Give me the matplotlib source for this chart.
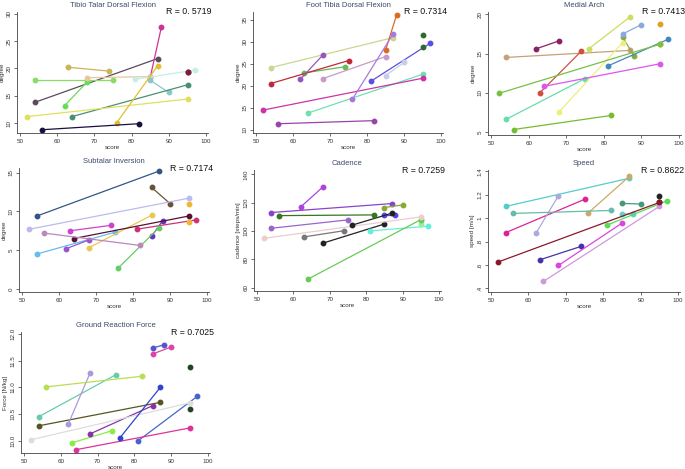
import numpy as np
import matplotlib
matplotlib.use("Agg")
import matplotlib.pyplot as plt

plt.rcParams['font.family'] = ['Liberation Sans', 'DejaVu Sans']

# scores of each subject (first and second session), subjects A..M
score_1 = [54, 85, 63, 54, 62, 68, 81, 85, 95, 64, 52, 76, 56]
score_2 = [87, 88, 74, 75, 68, 85, 97, 90, 95, 95, 95, 87, 82]

# tibio talar dorsal flexion
ttdf_1 = [13.8, 18.4, 20.2, 17.9, 13.2, 18.3, 18.0, 17.8, 19.4, 11.2, 11.2, 10.1, 8.8]
ttdf_2 = [21.8, 27.6, 19.5, 17.9, 17.5, 18.5, 19.7, 15.6, 19.4, 17.0, 14.4, 20.5, 9.9]
# foot tibia dorsal flexion
ftdf_1 = [24.1, 28.1, 22.9, 20.5, 21.5, 21.6, 21.0, 22.3, 31.5, 13.8, 14.5, 16.9, 11.4]
ftdf_2 = [30.9, 36.1, 24.3, 25.7, 26.9, 26.6, 29.6, 25.3, 28.7, 22.6, 21.7, 31.7, 12.1]
# medial arch
arch_1 = [14.5, 17.1, 10.0, 6.6, 15.6, 7.5, 13.4, 17.5, 18.8, 10.8, 9.9, 15.6, 5.3]
arch_2 = [15.4, 14.7, 15.3, 11.8, 16.6, 16.4, 16.8, 18.7, 16.2, 13.7, 16.2, 19.7, 7.1]
# subtalar inversion
subt_1 = [9.4, 6.8, 7.5, 4.5, 5.2, 5.3, 7.7, 13.1, 11.0, 6.5, 7.7, 2.7, 7.2]
subt_2 = [15.2, 8.8, 8.2, 7.3, 6.3, 9.5, 8.9, 11.0, 8.6, 9.4, 11.7, 7.9, 5.6]
# cadence
cad_1 = [113.0, 111.0, 95.8, 101.9, 116.9, 91.3, 100.0, 116.5, 108.0, 66.0, 94.8, 104.0, 110.8]
cad_2 = [119.3, 111.0, 100.2, 107.8, 130.8, 104.9, 103.3, 118.4, 104.7, 108.0, 109.9, 112.5, 111.3]
# speed
spd_1 = [1.10, 1.036, 0.644, 0.877, 0.87, 0.596, 0.94, 1.125, 1.19, 0.46, 0.627, 1.045, 1.04]
spd_2 = [1.34, 1.034, 0.758, 1.16, 1.19, 0.957, 1.147, 1.12, 1.14, 1.10, 1.133, 1.357, 1.065]
# ground reaction force
grf_1 = [10.28, 11.74, 9.96, 10.45, 10.31, 10.13, 10.00, 11.63, 11.39, 9.83, 10.02, 10.05, 11.01]
grf_2 = [10.72, 11.80, 10.19, 11.24, 11.28, 10.66, 10.83, 11.76, 10.60, 10.24, 10.71, 11.00, 11.21]

titles = ["Tibio Talar Dorsal Flexion", "Foot Tibia Dorsal Flexion", "Medial Arch",
          "Subtalar Inversion", "Cadence", "Speed", "Ground Reaction Force"]
r_labels = ["R = 0. 5719", "R = 0.7314", "R = 0.7413", "R = 0.7174",
            "R = 0.7259", "R = 0.8622", "R = 0.7025"]
ylabels = ["degree", "degree", "degree", "degree", "cadence [steps/min]",
           "speed [m/s]", "Force [N/kg]"]

colors = [
    ["#5b4a5e", "#cc3399", "#c8b45a", "#88dd66", "#66dd55", "#e6c89a", "#c4eee6",
     "#88c8cc", "#7a1f3d", "#4a9070", "#e0e060", "#e0c030", "#1a1040"],
    ["#c8d890", "#dd6a22", "#66bb55", "#c02a3a", "#9955bb", "#c89ac8", "#5a50e0",
     "#c8cce8", "#2e6a2e", "#70e0b0", "#cc33aa", "#aa77dd", "#9944aa"],
    ["#c8a07a", "#88aa44", "#d05040", "#66ddaa", "#882266", "#eeee80", "#4488bb",
     "#88aadd", "#e0a020", "#dd55ee", "#77c044", "#c8e060", "#77bb33"],
    ["#335588", "#6633bb", "#cc44cc", "#66bbee", "#9955cc", "#e8c850", "#cc3377",
     "#665533", "#f0b830", "#551133", "#bbbbee", "#66cc66", "#bb88bb"],
    ["#8844cc", "#5544dd", "#777777", "#9966cc", "#aa44dd", "#222222", "#66eedd",
     "#88aa33", "#99ee99", "#66cc55", "#eecccc", "#222222", "#337722"],
    ["#55cccc", "#66cccc", "#4433aa", "#dd2299", "#aaaadd", "#dd44dd", "#55dd55",
     "#449977", "#222222", "#cc99dd", "#8a1a2a", "#ccaa66", "#66bbaa"],
    ["#555522", "#5555cc", "#88ee44", "#66ccaa", "#aa99dd", "#8833aa", "#4466cc",
     "#dd44aa", "#224422", "#dd3399", "#dddddd", "#3344cc", "#bbdd55"],
]

data = [(ttdf_1, ttdf_2), (ftdf_1, ftdf_2), (arch_1, arch_2), (subt_1, subt_2),
        (cad_1, cad_2), (spd_1, spd_2), (grf_1, grf_2)]

ylims = [(8.2, 30.3), (9.3, 36.7), (4.6, 20.3), (-0.4, 15.6), (57.6, 143), (0.37, 1.41), (9.77, 12.04)]
yticks = [[10, 15, 20, 25, 30], [10, 15, 20, 25, 30, 35], [5, 10, 15, 20], [0, 5, 10, 15],
          [60, 80, 100, 120, 140], [0.4, 0.6, 0.8, 1.0, 1.2, 1.4], [10, 10.5, 11, 11.5, 12]]
ytlabels = [None, None, None, None, None, [".4", ".6", ".8", "1", "1.2", "1.4"], None]

W, H = 685, 469
fig = plt.figure(figsize=(W / 100, H / 100), dpi=100)

# axes boxes in pixels: left, top, right, bottom
boxes = [(17, 12, 208, 133), (253, 12, 443, 133), (488, 12, 681, 135),
         (19, 168, 209, 292), (254, 170, 441, 291), (488, 170, 680, 292),
         (21, 332, 210, 453)]

for i in range(7):
    l, t, r, b = boxes[i]
    ax = fig.add_axes([l / W, 1 - b / H, (r - l) / W, (b - t) / H])
    y1, y2 = data[i]
    for k in range(len(score_1)):
        c = colors[i][k]
        if score_1[k] == score_2[k]:
            ax.plot([score_1[k], score_2[k]], [y1[k], y2[k]], 'o', color=c, ms=3.2)
        else:
            ax.plot([score_1[k], score_2[k]], [y1[k], y2[k]], '-o', color=c, lw=0.9, ms=3.2)
    ax.set_xlim(49.2, 100.5)
    ax.set_ylim(*ylims[i])
    ax.set_xticks([50, 60, 70, 80, 90, 100])
    ax.set_yticks(yticks[i])
    if ytlabels[i] is not None:
        ax.set_yticklabels(ytlabels[i])
    for lab in ax.get_yticklabels():
        lab.set_rotation(90)
        lab.set_va('center')
    ax.tick_params(labelsize=4.5, length=2.5, width=0.5, pad=1.5, colors='#333333')
    ax.spines['top'].set_visible(False)
    ax.spines['right'].set_visible(False)
    for s in ['left', 'bottom']:
        ax.spines[s].set_linewidth(0.6)
        ax.spines[s].set_color('#444444')
    ax.set_xlabel("score", fontsize=4.5, labelpad=1, color='#333333')
    ax.set_ylabel(ylabels[i], fontsize=4.5, labelpad=1.5, color='#333333')
    ax.set_title(titles[i], fontsize=5.5, color='#3b4a6b', pad=3.5)
    ax.text(1.02, 1.0, r_labels[i], transform=ax.transAxes, ha='right', va='center',
            fontsize=6.3, color='#111111')

fig.savefig("out.png", dpi=100)
